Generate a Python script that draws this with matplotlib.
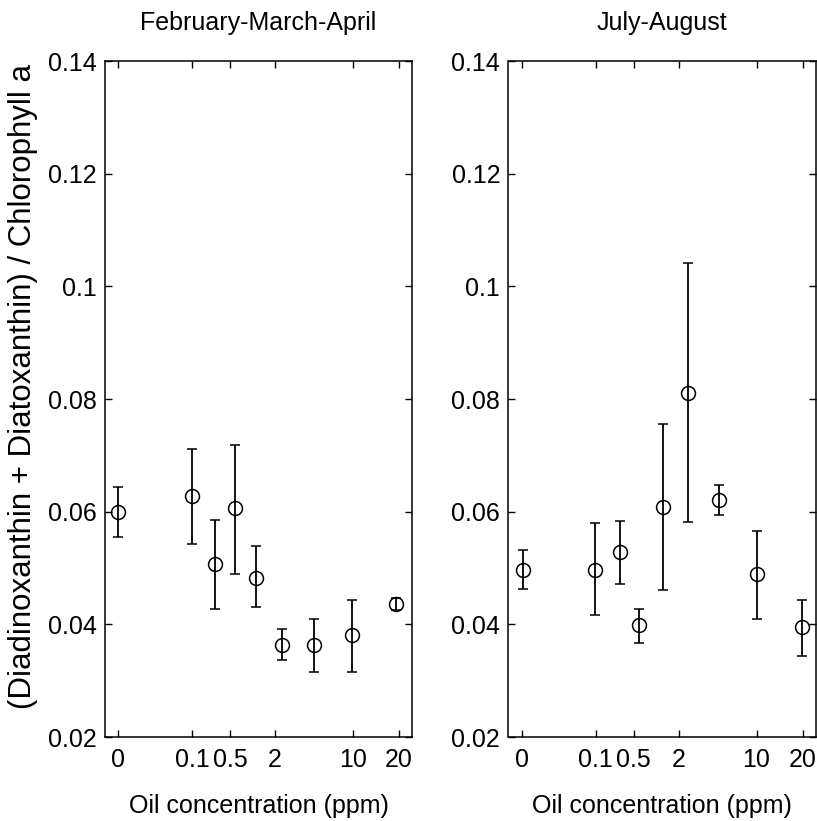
import matplotlib
matplotlib.use("Agg")
import numpy as np
from matplotlib import pyplot as plt

plt.rcParams['font.family'] = ['Liberation Sans', 'DejaVu Sans']

##### DATA #####
# x axis is a custom (non-linear) concentration scale, positions read off the picture
tick_pos = [0, 74, 112, 157, 235, 281]
tick_labels = ['0', '0.1', '0.5', '2', '10', '20']

feb_pos = [0, 74, 97.4, 116.7, 137.7, 164.4, 195.7, 233.7, 277.7]
feb_mean = [0.0599, 0.0627, 0.0507, 0.0606, 0.0483, 0.0364, 0.0364, 0.0381, 0.0436]
feb_low = [0.0555, 0.0542, 0.0427, 0.0490, 0.0430, 0.0336, 0.0315, 0.0315, 0.0425]
feb_high = [0.0644, 0.0712, 0.0585, 0.0719, 0.0539, 0.0391, 0.0409, 0.0444, 0.0447]

jul_pos = [1, 73.6, 98.3, 117.3, 141, 166, 197.6, 235, 280]
jul_mean = [0.0497, 0.0497, 0.0529, 0.0399, 0.0609, 0.0810, 0.0620, 0.0490, 0.0395]
jul_low = [0.0462, 0.0416, 0.0472, 0.0367, 0.0461, 0.0581, 0.0594, 0.0409, 0.0343]
jul_high = [0.0532, 0.0579, 0.0584, 0.0428, 0.0756, 0.1042, 0.0648, 0.0566, 0.0444]

titles = ['February-March-April', 'July-August']
y_ticks = [0.02, 0.04, 0.06, 0.08, 0.1, 0.12, 0.14]
y_ticklabels = ['0.02', '0.04', '0.06', '0.08', '0.1', '0.12', '0.14']
################

fig = plt.figure(figsize=(8.17, 8.21), dpi=100)
ax1 = fig.add_axes([105 / 817, 1 - 737 / 821, 307 / 817, 676 / 821])
ax2 = fig.add_axes([508.5 / 817, 1 - 737 / 821, 307 / 817, 676 / 821])

panels = [
    (ax1, feb_pos, feb_mean, feb_low, feb_high, titles[0]),
    (ax2, jul_pos, jul_mean, jul_low, jul_high, titles[1]),
]

for ax, pos, mean, low, high, title in panels:
    mean = np.array(mean)
    yerr = [mean - np.array(low), np.array(high) - mean]
    ax.errorbar(pos, mean, yerr=yerr, fmt='o', mfc='none', mec='black',
                ecolor='black', ms=10, mew=1.1, elinewidth=1.3, capsize=3.5,
                capthick=1.3)
    ax.set_xlim(-13, 294)
    ax.set_ylim(0.02, 0.14)
    ax.set_xticks(tick_pos)
    ax.set_xticklabels(tick_labels)
    ax.set_yticks(y_ticks)
    ax.set_yticklabels(y_ticklabels)
    ax.tick_params(direction='in', top=True, right=True, length=5, width=1,
                   labelsize=18)
    ax.tick_params(axis='x', pad=8)
    ax.tick_params(axis='y', pad=6)
    for sp in ax.spines.values():
        sp.set_linewidth(1.1)
    ax.text(0.5, 1.056, title, transform=ax.transAxes, ha='center',
            va='center', fontsize=18)
    ax.text(0.5, -0.102, 'Oil concentration (ppm)', transform=ax.transAxes,
            ha='center', va='center', fontsize=18)

ax1.text(-0.267, 0.518, '(Diadinoxanthin + Diatoxanthin) / Chlorophyll a',
         transform=ax1.transAxes, rotation=90, ha='center', va='center',
         fontsize=22.5)

fig.savefig('out.png', dpi=100)
